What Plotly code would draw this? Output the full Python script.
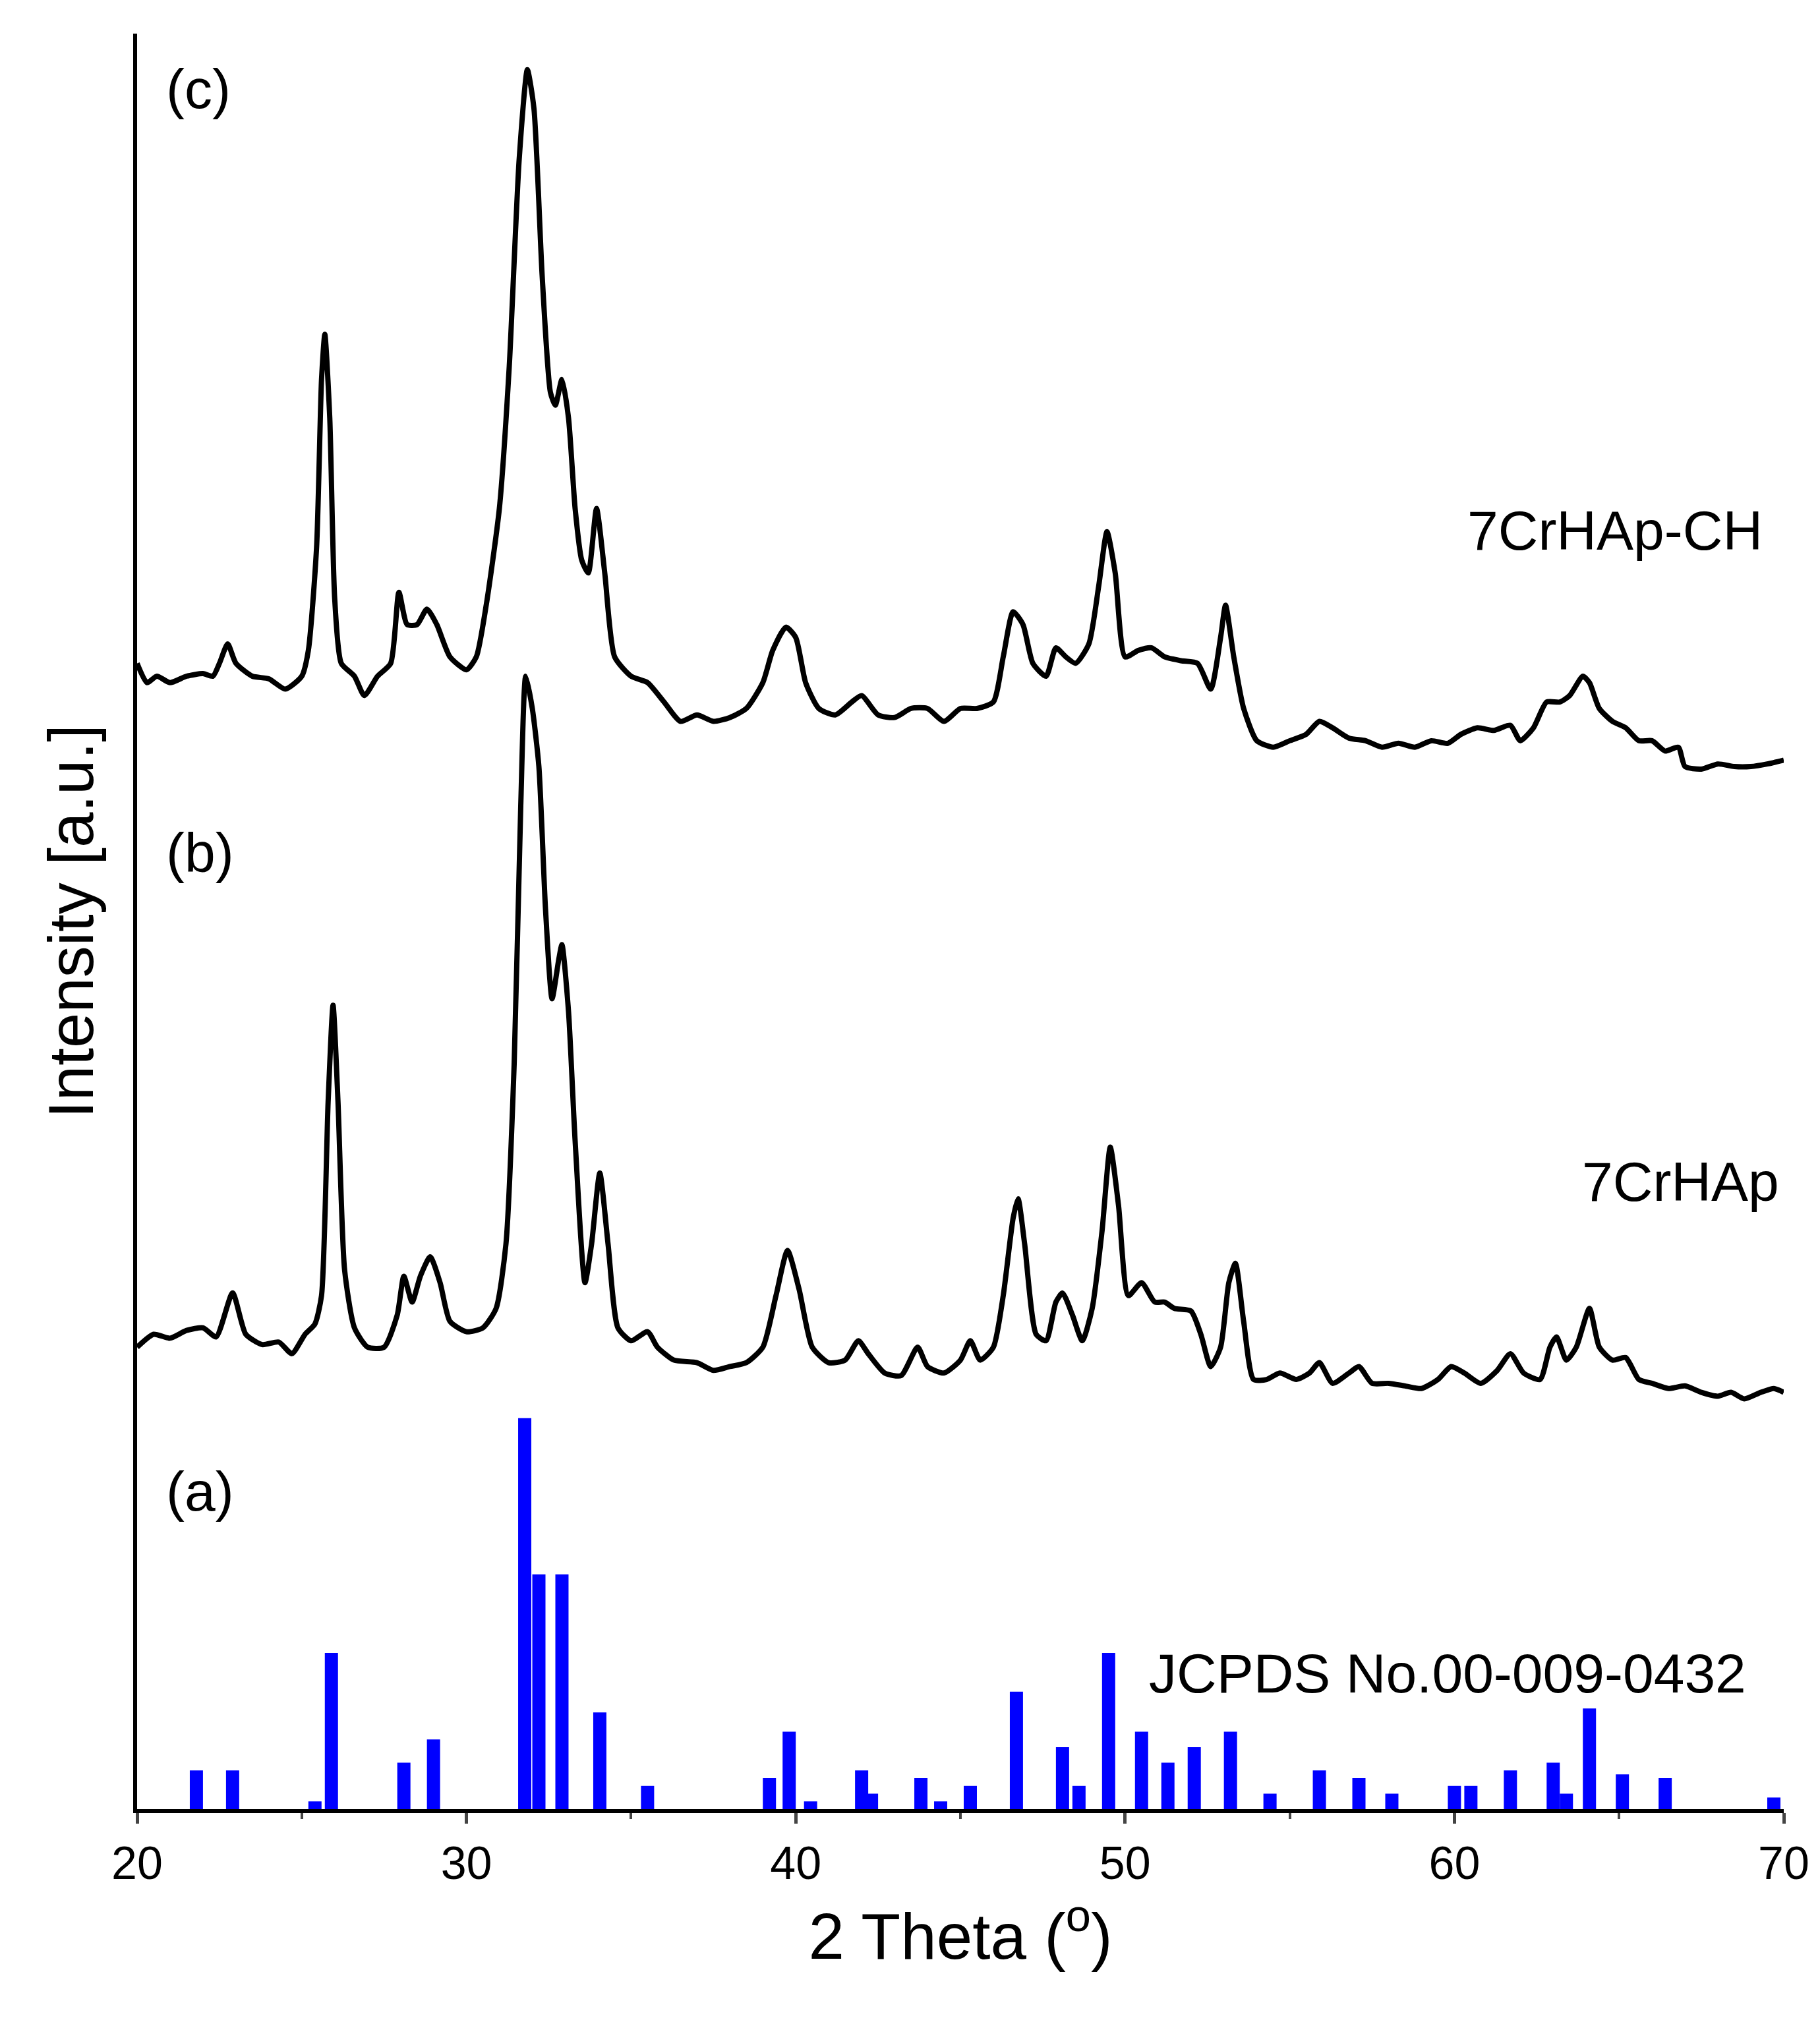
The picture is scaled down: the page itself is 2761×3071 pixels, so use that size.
import plotly.graph_objects as go

# Reference pattern JCPDS 00-009-0432 (2theta, relative intensity)
ref_2theta = [21.8,22.9,25.4,25.9,28.1,29.0,31.77,32.2,32.9,34.05,35.5,39.2,39.8,40.45,42.0,42.3,43.8,44.4,45.3,46.7,
              48.1,48.6,49.5,50.5,51.3,52.1,53.2,54.4,55.9,57.1,58.1,60.0,60.5,61.7,63.0,63.4,64.1,65.1,66.4,69.7]
ref_int = [30,30,6,121,36,54,303,182,182,75,18,24,60,6,30,12,24,6,18,91,
           48,18,121,60,36,48,60,12,30,24,12,18,18,30,36,12,78,27,24,9]

# 7CrHAp (b): 2theta and read level (image reading, larger = lower)
b_x = [20.0,20.5,21.0,21.5,22.0,22.4,22.9,23.3,23.8,24.3,24.7,25.1,25.4,25.6,25.8,25.95,26.1,26.3,26.6,27.0,27.5,27.9,28.1,28.35,28.6,28.9,29.2,29.5,30.0,30.5,30.9,31.2,31.45,31.65,31.8,32.0,32.2,32.4,32.6,32.8,32.9,33.1,33.3,33.6,33.8,34.05,34.3,34.6,35.0,35.5,35.8,36.3,37.0,37.5,38.0,38.5,39.0,39.4,39.75,40.1,40.5,41.0,41.5,41.9,42.2,42.7,43.2,43.7,44.0,44.5,45.0,45.3,45.6,46.0,46.3,46.6,46.75,46.95,47.3,47.6,47.9,48.1,48.4,48.7,49.0,49.3,49.55,49.8,50.1,50.5,50.9,51.2,51.5,52.0,52.3,52.6,52.9,53.15,53.35,53.6,53.9,54.3,54.7,55.2,55.6,55.9,56.3,56.8,57.1,57.5,58.0,58.5,59.0,59.5,59.9,60.3,60.8,61.3,61.7,62.1,62.6,62.9,63.1,63.4,63.7,64.1,64.4,64.8,65.2,65.6,66.0,66.5,67.0,67.5,68.0,68.4,68.8,69.3,69.7,70.0]
b_read = [1040,1030,1033,1027,1025,1032,998,1030,1038,1036,1045,1030,1022,1000,850,775,850,980,1025,1040,1040,1015,985,1005,985,970,990,1020,1028,1025,1010,960,820,620,520,545,590,700,770,740,728,780,880,990,960,905,960,1025,1035,1028,1040,1050,1052,1058,1055,1052,1040,1000,965,995,1040,1052,1050,1035,1045,1060,1062,1040,1055,1060,1050,1035,1050,1040,1000,940,925,960,1030,1035,1005,998,1015,1035,1010,950,885,930,1000,990,1005,1005,1010,1012,1030,1055,1040,990,975,1020,1065,1065,1060,1065,1060,1052,1068,1060,1055,1068,1068,1070,1072,1065,1055,1060,1068,1058,1045,1060,1065,1040,1032,1050,1040,1010,1040,1050,1048,1065,1068,1072,1070,1075,1078,1075,1080,1075,1072,1075]

# 7CrHAp-CH (c)
c_x = [20.0,20.3,20.6,21.0,21.5,22.0,22.3,22.5,22.75,23.0,23.5,24.0,24.5,25.0,25.2,25.45,25.6,25.7,25.85,26.0,26.2,26.6,26.9,27.3,27.7,27.95,28.2,28.5,28.8,29.1,29.5,30.0,30.3,30.6,31.0,31.3,31.6,31.85,32.05,32.3,32.55,32.7,32.9,33.1,33.3,33.5,33.7,33.95,34.2,34.5,35.0,35.5,36.0,36.5,37.0,37.5,38.0,38.5,39.0,39.3,39.7,40.0,40.3,40.7,41.2,41.7,42.0,42.5,43.0,43.5,44.0,44.5,45.0,45.5,46.0,46.3,46.6,46.9,47.2,47.6,47.9,48.2,48.5,48.9,49.2,49.45,49.7,50.0,50.4,50.8,51.2,51.7,52.2,52.6,52.9,53.05,53.3,53.6,54.0,54.5,55.0,55.5,55.9,56.3,56.8,57.3,57.8,58.3,58.8,59.3,59.8,60.2,60.7,61.2,61.7,62.0,62.4,62.8,63.2,63.5,63.9,64.1,64.4,64.8,65.2,65.6,66.0,66.4,66.8,67.0,67.5,68.0,68.5,69.0,69.5,70.0]
c_read = [510,525,520,525,520,518,520,510,495,510,520,522,530,520,500,420,290,255,320,460,510,520,535,520,510,455,480,480,468,480,505,515,505,465,390,280,120,50,80,210,300,310,290,320,390,430,440,390,440,505,520,525,540,555,550,555,552,545,525,500,482,490,525,545,550,540,535,550,552,545,545,555,545,545,540,505,470,480,510,520,498,505,510,495,450,408,440,505,500,498,505,508,510,530,490,465,505,545,570,575,570,565,555,560,568,570,575,572,575,570,572,565,560,562,558,570,560,540,540,535,520,525,545,555,560,570,570,578,575,590,592,588,590,590,588,585]

BASE = 1398
b_y = [BASE - v for v in b_read]
c_y = [BASE - v for v in c_read]

FONT = "Liberation Sans, Arial, sans-serif"
fig = go.Figure()
fig.add_bar(x=ref_2theta, y=ref_int, width=0.4, marker=dict(color="#0000FF", line=dict(width=0)))
line = dict(color="black", width=8, shape="spline", smoothing=0.6)
fig.add_scatter(x=b_x, y=b_y, mode="lines", line=line)
fig.add_scatter(x=c_x, y=c_y, mode="lines", line=line)

ann = dict(font=dict(family=FONT, size=84, color="black"), showarrow=False, xref="x", yref="y")
fig.add_annotation(x=20.85, y=1398-65, text="(c)", xanchor="left", **ann)
fig.add_annotation(x=20.85, y=1398-657, text="(b)", xanchor="left", **ann)
fig.add_annotation(x=20.85, y=1398-1152, text="(a)", xanchor="left", **ann)
fig.add_annotation(x=69.4, y=1398-407, text="7CrHAp-CH", xanchor="right", **ann)
fig.add_annotation(x=69.9, y=1398-912, text="7CrHAp", xanchor="right", **ann)
fig.add_annotation(x=68.9, y=1398-1293, text="JCPDS No.00-009-0432", xanchor="right", **ann)

fig.update_layout(
    width=2761, height=3071, showlegend=False,
    paper_bgcolor="white", plot_bgcolor="white",
    margin=dict(l=200, r=63, t=43, b=334),
    font=dict(family=FONT, color="black"),
    xaxis=dict(range=[20, 70], tickvals=[20,30,40,50,60,70], ticks="outside", ticklen=16, tickwidth=5,
               minor=dict(tickvals=[25,35,45,55,65], ticks="outside", ticklen=9, tickwidth=4),
               showline=True, linecolor="black", linewidth=6, showgrid=False, zeroline=False,
               tickfont=dict(size=70),
               title=dict(text="2 Theta (<sup>o</sup>)", font=dict(size=98), standoff=40)),
    yaxis=dict(range=[0, 1376], showticklabels=False, ticks="", showline=True, linecolor="black",
               linewidth=6, showgrid=False, zeroline=False,
               title=dict(text="Intensity [a.u.]", font=dict(size=96), standoff=30)),
)
fig.write_html("out.html")
